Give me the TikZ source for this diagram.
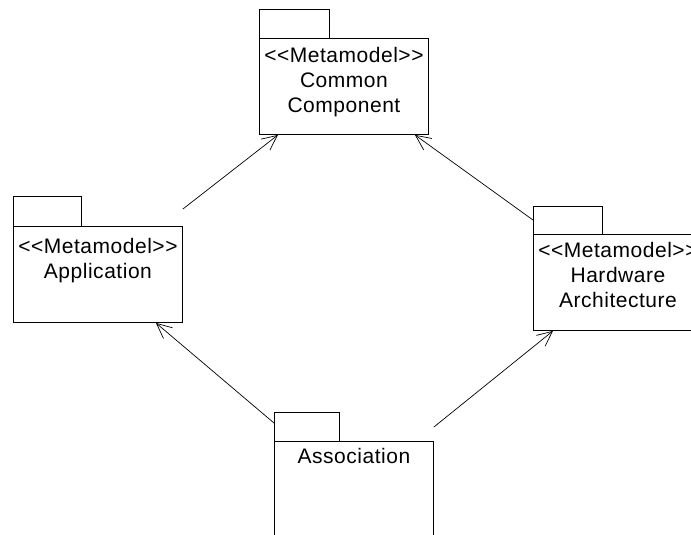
\documentclass[tikz,border=0pt]{standalone}
\usepackage{fontspec}
\setmainfont{Liberation Sans}[Ligatures=TeXOff, LetterSpace=2.5]
\usetikzlibrary{
    arrows.meta,
    calc,
    positioning
}

\tikzset{
    pkgbody/.style={draw, line width=0.9pt, rectangle, inner sep=0pt,
        minimum width=169pt, minimum height=96pt},
    pkgtab/.style={draw, line width=0.9pt},
    pkglabel/.style={inner sep=0pt, anchor=north, align=center,
        font=\fontsize{21}{25}\selectfont},
    dep/.style={line width=0.7pt, -{Straight Barb[length=15pt,width=14pt]}}
}

\begin{document}
\begin{tikzpicture}[x=1pt,y=1pt]
\useasboundingbox (0,0) rectangle (691,-535);
\clip (0,0) rectangle (691,-535);

% Package bodies
\node[pkgbody, anchor=north west] (common) at (259,-38) {};
\node[pkgbody, anchor=north west] (app) at (13,-226) {};
\node[pkgbody, anchor=north west] (hw) at (533,-234) {};
\node[pkgbody, anchor=north west, minimum width=159pt] (assoc) at (274,-441) {};

% Package tabs
\draw[pkgtab] (common.north west) -- ++(0,29) -- ++(70,0) -- ++(0,-29);
\draw[pkgtab] (app.north west) -- ++(0,30) -- ++(68,0) -- ++(0,-30);
\draw[pkgtab] (hw.north west) -- ++(0,28) -- ++(69,0) -- ++(0,-28);
\draw[pkgtab] (assoc.north west) -- ++(0,29) -- ++(65,0) -- ++(0,-29);

% Labels
\node[pkglabel, below=9pt of common.north] (commonlbl) {<<Metamodel>>\\Common\\Component};
\node[pkglabel, below=12pt of app.north] (applbl) {<<Metamodel>>\\Application};
\node[pkglabel, below=8pt of hw.north] (hwlbl) {<<Metamodel>>\\Hardware\\Architecture};
\node[pkglabel, below=7pt of assoc.north] (assoclbl) {Association};

% Dependencies
\draw[dep] ($(app.north east)+(0,17)$) -- ($(common.south west)+(19,0)$);
\draw[dep] ($(hw.north west)+(0,14)$) -- ($(common.south east)+(-14,0)$);
\draw[dep] ($(assoc.north west)+(0,18)$) -- ($(app.south east)+(-27,0)$);
\draw[dep] ($(assoc.north east)+(0,14)$) -- ($(hw.south west)+(20,0)$);
\end{tikzpicture}
\end{document}
